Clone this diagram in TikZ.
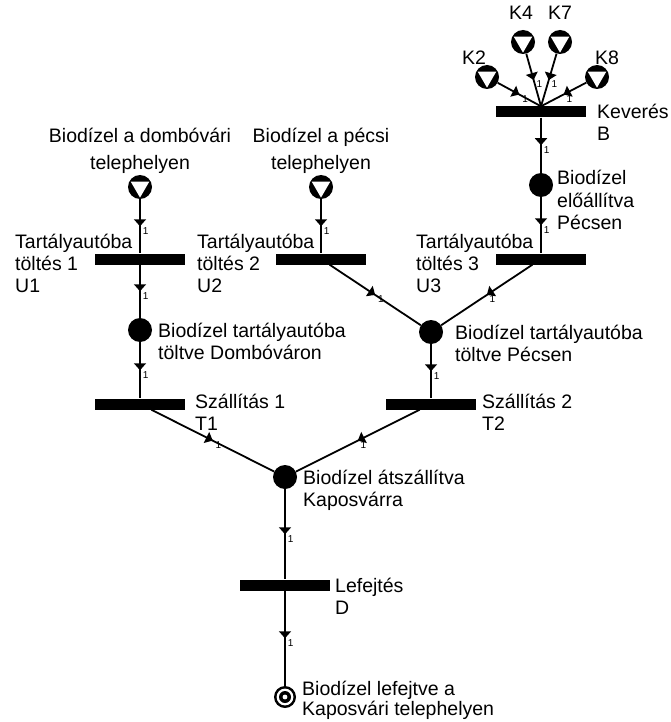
\documentclass[tikz,border=0pt]{standalone}
\usepackage{fontspec}
\setmainfont{Liberation Sans}
\usetikzlibrary{arrows.meta,decorations.markings}
\begin{document}
\begin{tikzpicture}[x=1pt,y=-1pt,
  place/.style={circle,fill=black,minimum size=24pt,inner sep=0pt},
  source/.style={place,path picture={
      \fill[white] (path picture bounding box.center) ++(-9.3,-5.4)
        -- ++(18.6,0) -- ++(-9.3,16) -- cycle;}},
  sink/.style={place,minimum size=22pt,path picture={
      \fill[white] (path picture bounding box.center) circle (8.4pt);
      \fill[black] (path picture bounding box.center) circle (6pt);
      \fill[white] (path picture bounding box.center) circle (2.4pt);}},
  bar/.style={rectangle,fill=black,minimum width=90pt,minimum height=11pt,inner sep=0pt},
  lbl/.style={font=\fontsize{19.5}{22}\selectfont,inner sep=0pt,align=left,anchor=base west},
  flow/.style={line width=1.8pt,postaction={decorate},
    decoration={markings,mark=at position 0.5 with {\arrow{Triangle[width=12pt,length=7pt]}}}},
  wt/.style={font=\fontsize{10}{10}\selectfont,inner sep=0pt,anchor=north west,xshift=2pt}
]
\fill[white] (0,0) rectangle (670,722);
\useasboundingbox (0,0) rectangle (670,722);

% places and transitions
\node[source] (sd) at (140,187) {};
\node[source] (sp) at (321,187) {};
\node[source] (k2) at (487,77) {};
\node[source] (k4) at (523,42) {};
\node[source] (k7) at (560,42) {};
\node[source] (k8) at (597,77) {};
\node[bar] (B) at (541,112) {};
\node[place] (pe) at (541,185) {};
\node[bar] (u1) at (140,259) {};
\node[bar] (u2) at (321,259) {};
\node[bar] (u3) at (541,259) {};
\node[place] (pd) at (140,330) {};
\node[place] (pp) at (431,332) {};
\node[bar] (t1) at (140,404) {};
\node[bar] (t2) at (431,404) {};
\node[place] (pk) at (285,477) {};
\node[bar] (d) at (285,585) {};
\node[sink] (pf) at (285,697) {};

% labels (anchored at the baseline of their last line)
\node[lbl,align=center,anchor=base,font=\fontsize{19.5}{27}\selectfont] (lsd) at (140,170) {Biodízel a dombóvári\\telephelyen};
\node[lbl,align=center,anchor=base,font=\fontsize{19.5}{27}\selectfont] (lsp) at (321,170) {Biodízel a pécsi\\telephelyen};
\node[lbl,anchor=base] (lk2) at (474,65) {K2};
\node[lbl,anchor=base] (lk4) at (521,20) {K4};
\node[lbl,anchor=base] (lk7) at (560,20) {K7};
\node[lbl,anchor=base] (lk8) at (607,65) {K8};
\node[lbl] (lB) at (597,141) {Keverés\\B};
\node[lbl] (lpe) at (557,229) {Biodízel\\előállítva\\Pécsen};
\node[lbl] (lu1) at (15,292) {Tartályautóba\\töltés 1\\U1};
\node[lbl] (lu2) at (197,292) {Tartályautóba\\töltés 2\\U2};
\node[lbl] (lu3) at (416,292) {Tartályautóba\\töltés 3\\U3};
\node[lbl] (lpd) at (158,359) {Biodízel tartályautóba\\töltve Dombóváron};
\node[lbl] (lpp) at (455,361) {Biodízel tartályautóba\\töltve Pécsen};
\node[lbl] (lt1) at (195,430) {Szállítás 1\\T1};
\node[lbl] (lt2) at (482,430) {Szállítás 2\\T2};
\node[lbl] (lpk) at (303,506) {Biodízel átszállítva\\Kaposvárra};
\node[lbl] (ld) at (335,614) {Lefejtés\\D};
\node[lbl,font=\fontsize{19.5}{15}\selectfont] (lpf) at (302,715) {Biodízel lefejtve a\\Kaposvári telephelyen};

% arcs
\draw[flow] (k2) -- node[wt]{1} (B.north);
\draw[flow] (k4) -- node[wt]{1} (B.north);
\draw[flow] (k7) -- node[wt]{1} (B.north);
\draw[flow] (k8) -- node[wt]{1} (B.north);
\draw[flow] (B) -- node[wt]{1} (pe);
\draw[flow] (pe) -- node[wt]{1} (u3);
\draw[flow] (sd) -- node[wt]{1} (u1);
\draw[flow] (sp) -- node[wt]{1} (u2);
\draw[flow] (u1) -- node[wt]{1} (pd);
\draw[flow] (u2) -- node[wt]{1} (pp);
\draw[flow] (u3) -- node[wt]{1} (pp);
\draw[flow] (pd) -- node[wt]{1} (t1);
\draw[flow] (pp) -- node[wt]{1} (t2);
\draw[flow] (t1) -- node[wt]{1} (pk);
\draw[flow] (t2) -- node[wt]{1} (pk);
\draw[flow] (pk) -- node[wt]{1} (d);
\draw[flow] (d) -- node[wt]{1} (pf);
\end{tikzpicture}
\end{document}
